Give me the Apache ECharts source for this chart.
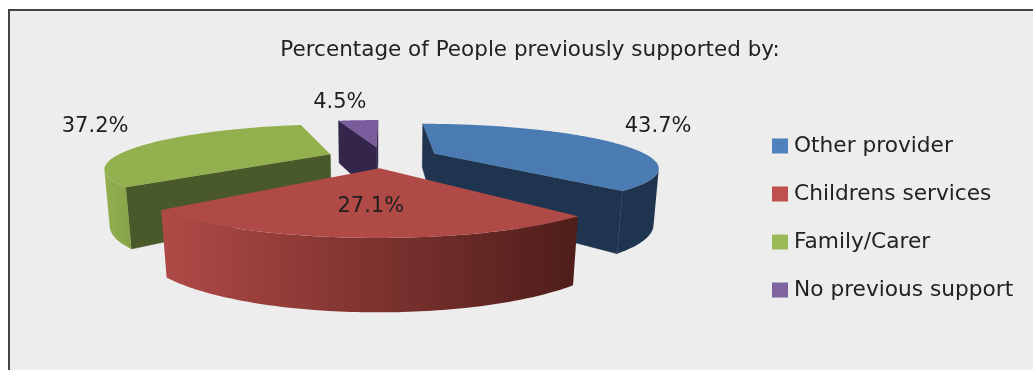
<!DOCTYPE html>
<html>
<head>
<meta charset="utf-8">
<title>Percentage of People previously supported by</title>
<style>
  html, body { margin: 0; padding: 0; background: #ffffff; overflow: hidden; }
  #chart { width: 1033px; height: 370px; }
</style>
<script src="https://cdn.jsdelivr.net/npm/echarts@6/dist/echarts.min.js"></script>
</head>
<body>
<div id="chart"></div>
<script>
// Chart content
const chartTitle = 'Percentage of People previously supported by:';
const categories = ['Other provider', 'Childrens services', 'Family/Carer', 'No previous support'];
const percentages = [43.7, 27.1, 37.2, 4.5];

// Slice colours
const legendColors = ['#4F81BD', '#C0504D', '#9BBB59', '#8064A2'];
const topColors = ['#4A7BB2', '#B04A46', '#93B04F', '#7A5C9C'];
const wallColors = ['#1F344F', '#4E1D1A', '#4A5929', '#33264A'];
const bandStops = [
  ['#1F344F', '#1F344F'],
  ['#B04A46', '#4E1D1A'],
  ['#93B04F', '#87A24A'],
  ['#33264A', '#33264A']
];

// Painting order: nearer slices sit on top of farther ones
const sliceDepth = [3, 4, 2, 1];

// Where each value label sits, as angle and radius on the pie's own plane
const labelAngles = [58, 182.5, 301, 352];
const labelRadii = [1.98, 0.88, 2.035, 2.39];

// Perspective camera for the tilted pie
const FONT = '"DejaVu Sans", sans-serif';
const centerX = 383;
const centerY = 157;
const scaleX = 215.5;
const scaleY = 40.3;
const nearGrowth = 0.296;
const baseShrink = 0.018;
const thickness = 54;
const thicknessFalloff = 0.8;
const explode = 0.26;

const total = percentages.reduce((a, b) => a + b, 0);
const rad = d => d * Math.PI / 180;

// Plane coordinates: u to the right, v towards the viewer; lower = bottom rim
function project(u, v, lower) {
  const w = 1 - nearGrowth * v + (lower ? baseShrink : 0);
  return [
    centerX + scaleX * u / w,
    centerY + scaleY * v / w + (lower ? thickness * Math.pow(w, -thicknessFalloff) : 0)
  ];
}

function signedArea(pts) {
  let s = 0;
  pts.forEach((p, i) => {
    const q = pts[(i + 1) % pts.length];
    s += p[0] * q[1] - q[0] * p[1];
  });
  return s;
}

function sliceChildren(index, value) {
  let start = 0;
  for (let i = 0; i < index; i++) start += percentages[i] / total * 360;
  const sweep = value / total * 360;
  const mid = start + sweep / 2;
  const offU = explode * Math.sin(rad(mid));
  const offV = -explode * Math.cos(rad(mid));

  const rimPlane = [];
  const steps = Math.max(6, Math.ceil(sweep));
  for (let i = 0; i <= steps; i++) {
    const t = rad(start + sweep * i / steps);
    rimPlane.push([offU + Math.sin(t), offV - Math.cos(t)]);
  }
  const apex = [offU, offV];
  const topOf = p => project(p[0], p[1], false);
  const lowOf = p => project(p[0], p[1], true);
  const faces = (a, b) => [topOf(a), topOf(b), lowOf(b), lowOf(a)];
  const children = [];

  // Flat cut walls, kept only when they turn towards the viewer
  [[apex, rimPlane[0]], [rimPlane[steps], apex]].forEach(edge => {
    const quad = faces(edge[0], edge[1]);
    if (signedArea(quad) < 0) {
      children.push({
        type: 'polygon',
        shape: { points: quad },
        style: { fill: wallColors[index], stroke: wallColors[index], lineWidth: 0.5 }
      });
    }
  });

  // Curved outer wall: only the run of rim segments facing the viewer
  const upper = [];
  const lower = [];
  for (let i = 0; i < steps; i++) {
    if (signedArea(faces(rimPlane[i], rimPlane[i + 1])) < 0) {
      if (!upper.length) {
        upper.push(topOf(rimPlane[i]));
        lower.push(lowOf(rimPlane[i]));
      }
      upper.push(topOf(rimPlane[i + 1]));
      lower.push(lowOf(rimPlane[i + 1]));
    }
  }
  if (upper.length) {
    children.push({
      type: 'polygon',
      shape: { points: upper.concat(lower.reverse()) },
      style: {
        fill: new echarts.graphic.LinearGradient(0, 0, 1, 0, [
          { offset: 0, color: bandStops[index][0] },
          { offset: 1, color: bandStops[index][1] }
        ])
      }
    });
  }

  // Top face
  children.push({
    type: 'polygon',
    shape: { points: [topOf(apex)].concat(rimPlane.map(topOf)) },
    style: { fill: topColors[index] }
  });

  // Value label
  const la = rad(labelAngles[index]);
  const at = project(labelRadii[index] * Math.sin(la), -labelRadii[index] * Math.cos(la), false);
  children.push({
    type: 'text',
    style: {
      text: value.toFixed(1) + '%',
      x: at[0] - 1,
      y: at[1] + 2,
      align: 'center',
      verticalAlign: 'middle',
      fontFamily: FONT,
      fontSize: 21,
      fill: '#1e1e1e'
    }
  });
  return children;
}

const chart = echarts.init(document.getElementById('chart'), null, { renderer: 'canvas' });
chart.setOption({
  animation: false,
  backgroundColor: '#ffffff',
  graphic: [{
    type: 'rect',
    z: -10,
    shape: { x: 9, y: 10, width: 1200, height: 600 },
    style: { fill: '#EDEDED', stroke: '#454545', lineWidth: 2 }
  }],
  title: {
    text: chartTitle,
    left: 525,
    top: 34,
    textAlign: 'center',
    textStyle: { fontFamily: FONT, fontSize: 21.5, fontWeight: 'normal', color: '#222222' }
  },
  legend: {
    orient: 'vertical',
    left: 767,
    top: 130,
    data: categories,
    icon: 'rect',
    itemWidth: 16,
    itemHeight: 15,
    itemGap: 26,
    selectedMode: false,
    textStyle: { fontFamily: FONT, fontSize: 21.7, color: '#222222', padding: [0, 0, 0, 1] }
  },
  series: categories.map((name, i) => ({
    type: 'custom',
    name: name,
    coordinateSystem: 'none',
    z: sliceDepth[i],
    silent: true,
    itemStyle: { color: legendColors[i] },
    data: [[percentages[i]]],
    renderItem: (params, api) => ({
      type: 'group',
      children: sliceChildren(i, api.value(0))
    })
  }))
});
</script>
</body>
</html>
